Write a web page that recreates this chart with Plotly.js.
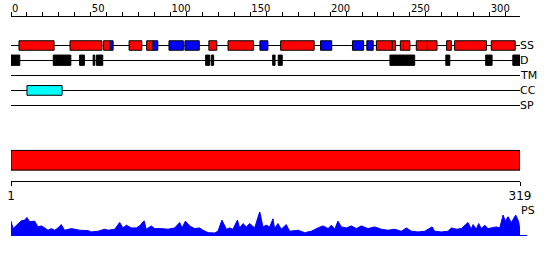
<!DOCTYPE html>
<html><head><meta charset="utf-8">
<script src="https://cdn.plot.ly/plotly-3.0.1.min.js"></script>
<style>html,body{margin:0;padding:0;background:#fff;}#chart{width:550px;height:260px;}</style>
</head><body><div id="chart"></div>
<script>
// ---------- data ----------
const seqLength = 319;
const topTickVals = [0,10,20,30,40,50,60,70,80,90,100,110,120,130,140,150,160,170,180,190,200,210,220,230,240,250,260,270,280,290,300,310];
const topTickText = ['0','','','','','50','','','','','100','','','','','150','','','','','200','','','','','250','','','','','300',''];
const bottomTickVals = [0, 319];
const bottomTickText = ['1', '319'];
const trackNames = ['SS','D','TM','CC','SP'];

// secondary structure: helices (red) and strands (blue)
const helixStart = [5, 37, 58, 74, 85, 124, 136, 169, 229, 239, 244, 246, 254, 261, 273, 278, 301];
const helixEnd   = [27, 57, 62, 82, 89, 129, 152, 190, 239, 241, 246, 250, 261, 267, 276, 298, 316];
const strandStart = [62, 89, 99, 109, 156, 194, 214, 223];
const strandEnd   = [64, 92, 108, 118, 161, 201, 221, 227];
// disorder (black)
const disStart = [0, 26.5, 43, 51.5, 53.5, 122, 125.5, 164, 167.5, 237.5, 272.5, 297.5, 314.5];
const disEnd   = [5.5, 37.5, 46, 52.5, 57.5, 124.5, 127, 165.5, 170, 253, 275, 301.5, 319];
// coiled coil (cyan)
const ccStart = [10];
const ccEnd   = [32];
// whole protein bar
const protStart = [0];
const protEnd = [319];
// PS profile
const psPos = [0,1.3,4.4,6.5,8.6,10.0,11.7,14.8,16.9,19.0,21.1,23.2,25.3,27.4,29.5,31.5,33.6,37.8,39.9,43.0,48.3,50.3,54.5,58.7,60.8,65.0,68.1,70.2,72.3,75.4,78.5,80.6,83.4,84.8,87.9,90.0,94.2,98.4,102.6,105.7,107.2,109.3,112.0,115.1,118.2,120.3,123.5,127.6,129.7,132.2,135.0,137.0,139.1,141.9,143.3,145.4,147.5,149.6,152.7,155.9,157.9,160.0,162.1,164.2,165.2,167.3,169.4,172.5,174.6,179.9,184.0,188.2,192.4,195.5,198.7,200.8,202.9,204.9,207.0,210.2,213.3,216.4,219.6,223.7,227.9,232.1,236.3,240.5,244.6,247.8,250.9,255.1,259.3,263.9,265.5,269.7,273.9,276.0,279.1,282.2,286.4,288.5,289.6,291.6,293.1,294.8,296.9,298.9,301.0,304.2,306.3,308.4,309.8,311.5,313.6,316.3,318.2,319];
const psVal = [14.7,7.3,12,15,15.7,18.3,14,14.7,9,10,8,5.7,7.3,5.7,8,11.3,5.7,7.3,6.7,5.7,5.3,4,4.7,6.7,5.7,6.7,13.3,8,10.7,8,8,10,15,6.7,10,7.3,7.3,6.7,8,13.3,8,14.7,10,7.3,8,5.7,3.3,3,4.7,15.7,6.7,8,6.7,15.7,8,12.3,9,12.3,8,24,9,10.7,9,17,7.3,12.3,6.7,11.3,4.7,5.7,3.3,4.7,8,10,7.3,10.7,6.7,14.7,9,8,10,7.3,10,7.3,9,6.7,5.7,6.7,4.7,8,4.7,4,4.7,9,4.7,4,4.7,8,6.7,7.3,13.3,6.7,11.3,6.7,12.3,7.3,10.7,7.3,8,9,8,20.7,14.7,19,13.3,20.7,14,5];

// ---------- layout constants (vertical rows in px from top) ----------
const H = 260;
const rows = {SS:45.5, D:60.5, TM:75.5, CC:90.5, SP:105.5};
const FONT = 'DejaVu Sans, sans-serif';

function boxes(starts, ends, row, h, color){
  return {type:'bar', orientation:'h', base:starts, x:ends.map((e,i)=>e-starts[i]),
    y:starts.map(()=>row), width:h, marker:{color:color, line:{color:'#000', width:1}},
    xaxis:'x', yaxis:'y', hoverinfo:'skip', showlegend:false, cliponaxis:false};
}

const traces = [
  // invisible helper to register top axis
  {type:'scatter', mode:'lines', x:[0, seqLength], y:[rows.TM, rows.TM], xaxis:'x2', yaxis:'y',
   line:{color:'rgba(0,0,0,0)', width:1}, hoverinfo:'skip', showlegend:false},
  boxes(helixStart, helixEnd, 45.5, 9.5, '#ff0000'),
  boxes(strandStart, strandEnd, 45.5, 9.5, '#0000ff'),
  boxes(disStart, disEnd, 60.2, 10.3, '#000000'),
  boxes(ccStart, ccEnd, 90.4, 9.7, '#00ffff'),
  boxes(protStart, protEnd, 160.3, 19.7, '#ff0000'),
  {type:'scatter', mode:'lines', x:psPos, y:psVal, xaxis:'x', yaxis:'y2', fill:'tozeroy',
   fillcolor:'#0000ff', line:{color:'#0000ff', width:1}, hoverinfo:'skip', showlegend:false}
];

const shapes = trackNames.map(n => ({type:'line', layer:'below', xref:'x', yref:'y',
  x0:0, x1:seqLength, y0:rows[n], y1:rows[n], line:{color:'#000', width:1}}));
// PS baseline slight extension
shapes.push({type:'line', xref:'paper', yref:'y', x0:1, x1:1.014, y0:235.5, y1:235.5, line:{color:'#0000ff', width:1}});

const annotations = trackNames.map(n => ({xref:'paper', yref:'y', x:1, y:rows[n], xanchor:'left', yanchor:'middle',
  text:n, showarrow:false, xshift:-2, font:{family:FONT, size:11, color:'#000'}}));
annotations.push({xref:'paper', yref:'y', x:1, y:210.5, xanchor:'left', yanchor:'middle', text:'PS',
  showarrow:false, xshift:-1, font:{family:FONT, size:11, color:'#000'}});

const layout = {
  width:550, height:260, margin:{l:11, r:30, t:0, b:0},
  paper_bgcolor:'#fff', plot_bgcolor:'#fff', showlegend:false, hovermode:false, barmode:'overlay',
  font:{family:FONT, color:'#000'},
  xaxis:{domain:[0,1], range:[0, seqLength], anchor:'free', position:1-180.5/H, side:'bottom',
    showline:true, linecolor:'#000', linewidth:1, ticks:'outside', ticklen:4, tickcolor:'#000', tickwidth:1,
    tickmode:'array', tickvals:bottomTickVals, ticktext:bottomTickText, tickfont:{family:FONT, size:12, color:'#000'},
    showgrid:false, zeroline:false, fixedrange:true},
  xaxis2:{overlaying:'x', range:[0, seqLength], anchor:'free', position:1-15.5/H, side:'top',
    showline:true, linecolor:'#000', linewidth:1, ticks:'outside', ticklen:4, tickcolor:'#000', tickwidth:1,
    tickmode:'array', tickvals:topTickVals, ticktext:topTickText, ticklabelposition:'outside right',
    tickfont:{family:FONT, size:10, color:'#000'}, showgrid:false, zeroline:false, fixedrange:true},
  yaxis:{domain:[0,1], range:[H, 0], visible:false, fixedrange:true},
  yaxis2:{domain:[1-236/H, 1-211.7/H], range:[0, 24], anchor:'x', visible:false, fixedrange:true},
  shapes:shapes, annotations:annotations
};

Plotly.newPlot('chart', traces, layout, {staticPlot:true, displayModeBar:false});
</script>
</body></html>
